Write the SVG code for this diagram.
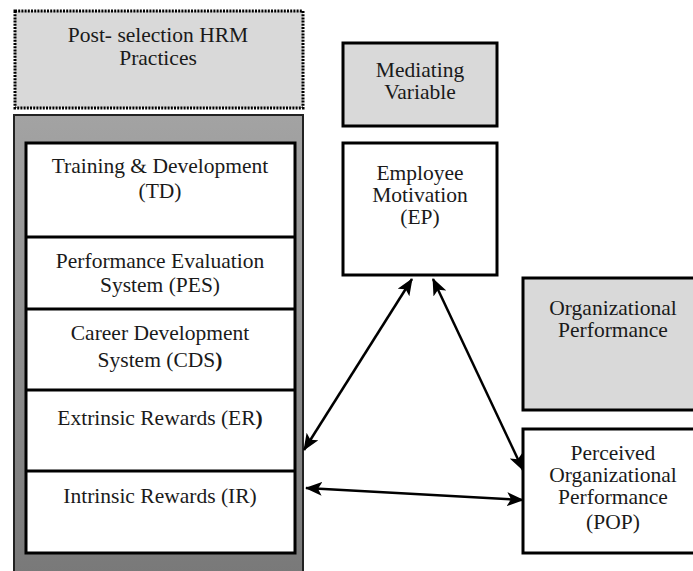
<svg xmlns="http://www.w3.org/2000/svg" width="693" height="571" viewBox="0 0 693 571">
<defs>
<linearGradient id="gray" x1="0" y1="0" x2="0" y2="1">
<stop offset="0" stop-color="#a3a3a3"/>
<stop offset="1" stop-color="#787878"/>
</linearGradient>
<marker id="ah" viewBox="0 0 17 14" refX="16" refY="7" markerWidth="17" markerHeight="14" markerUnits="userSpaceOnUse" orient="auto-start-reverse">
<path d="M0,0 L17,7 L0,14 L4,7 z" fill="#000"/>
</marker>
</defs>
<style>
text{font-family:'Liberation Serif','DejaVu Serif',serif;font-size:21.5px;fill:#1a1a1a;text-anchor:middle}
.box{stroke:#000;stroke-width:3}
.light{fill:#d9d9d9}
.white{fill:#fff}
.conn{stroke:#000;stroke-width:2.5;fill:none;marker-start:url(#ah);marker-end:url(#ah)}
</style>
<rect width="693" height="571" fill="#fff"/>
<g id="hrm-header">
<rect x="15" y="11" width="288" height="97" class="light" stroke="#000" stroke-width="3" stroke-dasharray="2 1.2"/>
<text x="158" y="42">Post- selection HRM</text>
<text x="158" y="65">Practices</text>
</g>
<g id="hrm-practices">
<rect x="14" y="115" width="289" height="470" fill="url(#gray)" stroke="#222" stroke-width="2"/>
<rect x="26" y="143" width="269" height="410" class="box white"/>
</g>
<g id="td">
<text x="160" y="173">Training &amp; Development</text>
<text x="160" y="198">(TD)</text>
</g>
<g id="pes">
<line x1="26" y1="237" x2="295" y2="237" class="box"/>
<text x="160" y="268">Performance Evaluation</text>
<text x="160" y="292">System (PES)</text>
</g>
<g id="cds">
<line x1="26" y1="309" x2="295" y2="309" class="box"/>
<text x="160" y="340">Career Development</text>
<text x="160" y="367">System (CDS<tspan font-weight="bold">)</tspan></text>
</g>
<g id="er">
<line x1="26" y1="390" x2="295" y2="390" class="box"/>
<text x="160" y="425">Extrinsic Rewards (ER<tspan font-weight="bold">)</tspan></text>
</g>
<g id="ir">
<line x1="26" y1="471" x2="295" y2="471" class="box"/>
<text x="160" y="503">Intrinsic Rewards (IR)</text>
</g>
<g id="mediating-header">
<rect x="343" y="43" width="154" height="83" class="box light"/>
<text x="420" y="77">Mediating</text>
<text x="420" y="99">Variable</text>
</g>
<g id="ep">
<rect x="343" y="143" width="154" height="132" class="box white"/>
<text x="420" y="180">Employee</text>
<text x="420" y="202">Motivation</text>
<text x="420" y="224">(EP)</text>
</g>
<g id="op-header">
<rect x="523" y="278" width="185" height="132" class="box light"/>
<text x="613" y="315">Organizational</text>
<text x="613" y="337">Performance</text>
</g>
<g id="pop">
<rect x="523" y="429" width="185" height="124" class="box white"/>
<text x="613" y="460">Perceived</text>
<text x="613" y="482">Organizational</text>
<text x="613" y="504">Performance</text>
<text x="613" y="529">(POP)</text>
</g>
<g id="connectors">
<line x1="304" y1="450" x2="412" y2="279" class="conn"/>
<line x1="433" y1="279" x2="523" y2="470" class="conn"/>
<line x1="306" y1="488" x2="523" y2="500" class="conn"/>
</g>
</svg>
